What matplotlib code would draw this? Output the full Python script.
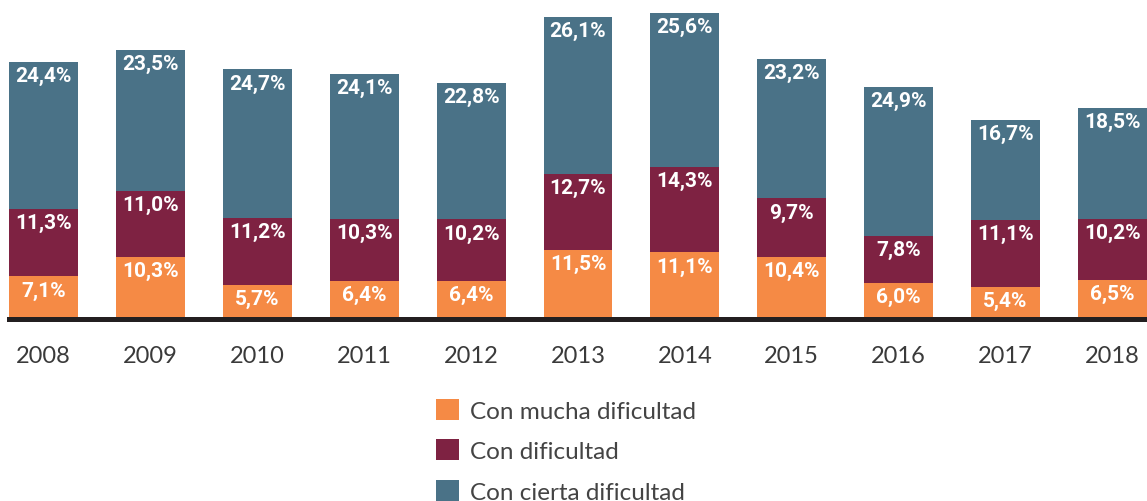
import matplotlib
matplotlib.use("Agg")
import matplotlib.pyplot as plt
from matplotlib.patches import Patch
import numpy as np

years = ["2008", "2009", "2010", "2011", "2012", "2013", "2014", "2015", "2016", "2017", "2018"]
mucha = [7.1, 10.3, 5.7, 6.4, 6.4, 11.5, 11.1, 10.4, 6.0, 5.4, 6.5]
dificultad = [11.3, 11.0, 11.2, 10.3, 10.2, 12.7, 14.3, 9.7, 7.8, 11.1, 10.2]
cierta = [24.4, 23.5, 24.7, 24.1, 22.8, 26.1, 25.6, 23.2, 24.9, 16.7, 18.5]
series_names = ["Con mucha dificultad", "Con dificultad", "Con cierta dificultad"]
colors = ["#F58A45", "#7E2242", "#4A7287"]

W, H = 1147, 502
fig = plt.figure(figsize=(W / 100, H / 100), dpi=100)
bw = 0.645
left_px, right_px = 9, 1147
bottom_px, top_px = 320, 14
ax = fig.add_axes([left_px / W, (H - bottom_px) / H, (right_px - left_px) / W, (bottom_px - top_px) / H])

x = np.arange(len(years))
bottoms = np.zeros(len(years))
for vals, col in zip([mucha, dificultad, cierta], colors):
    vals = np.array(vals)
    ax.bar(x, vals, bw, bottom=bottoms, color=col, linewidth=0)
    for xi, b, v in zip(x, bottoms, vals):
        ax.annotate(f"{v:.1f}%".replace(".", ","), (xi, b + v), xytext=(0, -3.0),
                    textcoords="offset points", ha="center", va="top", color="white",
                    fontsize=15, fontweight="bold",
                    family=["Roboto", "DejaVu Sans"])
    bottoms = bottoms + vals

ax.set_xlim(-bw / 2, len(years) - 1 + bw / 2)
ax.set_ylim(0, max(bottoms))
for s in ["left", "right", "top"]:
    ax.spines[s].set_visible(False)
ax.spines["bottom"].set_linewidth(3.6)
ax.spines["bottom"].set_color("#231F20")
ax.spines["bottom"].set_zorder(5)
ax.set_yticks([])
ax.set_xticks(x)
ax.set_xticklabels(years, fontsize=17, color="#3a3a3a", family="Lato", fontweight="normal")
ax.tick_params(axis="x", length=0, pad=18.5)
ax.patch.set_alpha(0)

handles = [Patch(facecolor=c, edgecolor="none") for c in colors]
fig.legend(handles, series_names, loc="upper left", bbox_to_anchor=(436 / W, 1 - 400 / H),
           frameon=False, handlelength=0.95, handleheight=0.95,
           handletextpad=0.45, labelspacing=0.72, borderpad=0, borderaxespad=0,
           prop={"family": "Lato", "weight": "normal", "size": 17.5},
           labelcolor="#444444")

fig.savefig("out.png", dpi=100)
